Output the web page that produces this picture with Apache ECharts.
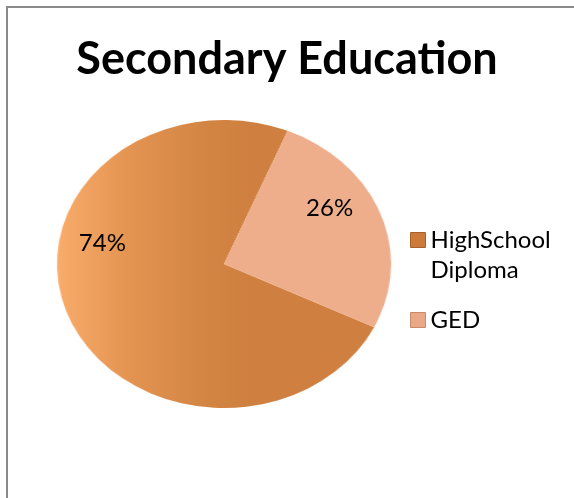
<!DOCTYPE html>
<html>
<head>
<meta charset="utf-8">
<script src="https://cdn.jsdelivr.net/npm/echarts@6/dist/echarts.min.js"></script>
<style>
  html, body { margin: 0; padding: 0; background: #fff; }
  #wrap { position: relative; width: 574px; height: 498px; overflow: hidden; background: #fff; }
  #frame { position: absolute; left: 6px; top: 6px; width: 580px; height: 500px; border-left: 2px solid #8a8a8a; border-top: 2px solid #8a8a8a; box-sizing: border-box; }
  #pie { position: absolute; left: 0; top: 0; width: 574px; height: 498px; transform: scaleX(1.16); transform-origin: 224px 264px; }
  #main { position: absolute; left: 0; top: 0; width: 574px; height: 498px; }
</style>
</head>
<body>
<div id="wrap">
  <div id="frame"></div>
  <div id="pie"></div>
  <div id="main"></div>
</div>
<script>
const titleText = 'Secondary Education';
const categories = ['HighSchool Diploma', 'GED'];
const legendNames = ['HighSchool\nDiploma', 'GED'];
const values = [74, 26];

const FONT = 'Lato, "Open Sans", sans-serif';

const hsGradient = new echarts.graphic.LinearGradient(80, 0, 250, 0, [
  { offset: 0, color: '#F9AC6B' },
  { offset: 0.35, color: '#E59552' },
  { offset: 0.75, color: '#D38544' },
  { offset: 1, color: '#CF8040' }
], true);

const colors = [hsGradient, '#EEAE8C'];
const legendColors = ['#CC7A3A', '#E9A888'];

const pieData = categories.map((c, i) => ({ name: legendNames[i], value: values[i], itemStyle: { color: colors[i] } }));

const pieChart = echarts.init(document.getElementById('pie'), null, { renderer: 'canvas' });
pieChart.setOption({
  animation: false,
  series: [{
    type: 'pie',
    center: [224, 264],
    radius: 144,
    startAngle: -26,
    clockwise: true,
    label: { show: false },
    labelLine: { show: false },
    silent: true,
    itemStyle: { borderWidth: 0 },
    data: pieData
  }]
});

const main = echarts.init(document.getElementById('main'), null, { renderer: 'canvas' });
main.setOption({
  animation: false,
  title: {
    text: titleText,
    left: 'center',
    top: 32,
    textStyle: { fontFamily: FONT, fontWeight: 'bold', fontSize: 45, color: '#000' }
  },
  legend: {
    orient: 'vertical',
    left: 410,
    top: 195,
    padding: 0,
    itemWidth: 15,
    itemHeight: 15,
    itemGap: 20,
    icon: 'rect',
    selectedMode: false,
    formatter: function (n) { return n.indexOf('\n') >= 0 ? '\n' + n : n; },
    textStyle: { fontFamily: FONT, fontSize: 24, lineHeight: 30, color: '#000' },
    data: legendNames.map((n, i) => ({
      name: n,
      itemStyle: { color: legendColors[i], borderColor: i === 0 ? '#A86028' : '#C88A6C', borderWidth: 1 }
    }))
  },
  series: [{
    type: 'pie',
    center: [216, 226],
    radius: [100, 124],
    startAngle: -38,
    silent: true,
    itemStyle: { color: 'rgba(0,0,0,0)' },
    label: {
      show: true,
      position: 'inside',
      formatter: '{d}%',
      fontFamily: FONT,
      fontSize: 24,
      color: '#000'
    },
    labelLine: { show: false },
    data: legendNames.map((n, i) => ({ name: n, value: values[i] }))
  }]
});
</script>
</body>
</html>
